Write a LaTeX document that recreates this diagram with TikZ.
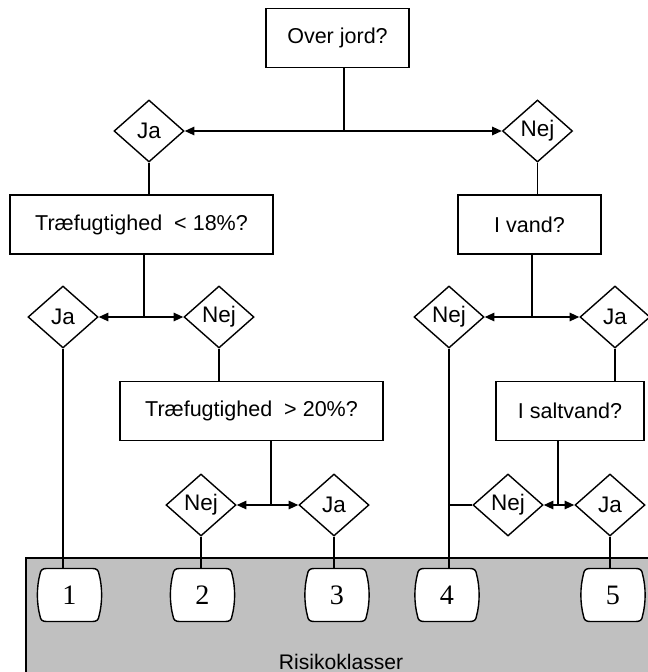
\documentclass[tikz,border=0pt]{standalone}
\usepackage{fontspec}
\setmainfont{Liberation Sans}
\newfontfamily\numfont{Liberation Serif}
\usepackage{tikz}
\usepackage{xcolor}
\usetikzlibrary{arrows.meta,positioning,shapes.geometric,calc}
\definecolor{ink}{HTML}{000000}
\definecolor{panelgray}{HTML}{C0C0C0}
\tikzset{
  askbox/.style={draw=ink,fill=white,line width=1pt,
                 minimum height=1.48cm,inner sep=2pt,align=center,
                 font=\fontsize{15.3}{18}\selectfont},
  answer/.style={draw=ink,fill=white,line width=1pt,diamond,
                 minimum width=1.75cm,minimum height=1.55cm,inner sep=0pt,
                 font=\fontsize{16}{18}\selectfont},
  classcard/.style={minimum width=1.625cm,minimum height=1.325cm,inner sep=0pt,
                    font=\numfont\fontsize{20}{22}\selectfont},
  cardline/.style={draw=ink,fill=white,line width=1pt},
  splitarr/.style={-{Triangle[length=2.4mm,width=2.1mm]},line width=1pt},
  plainline/.style={line width=1pt}
}
\begin{document}
\begin{tikzpicture}[x=0.025cm,y=-0.025cm]
  \useasboundingbox (0,0) rectangle (648,672);
  % risk class panel
  \fill[panelgray] (26,558) rectangle (652,676);
  \draw[plainline] (26,676) -- (26,558) -- (652,558);
  \node[font=\fontsize{15}{18}\selectfont] (rk) at (341,662) {Risikoklasser};
  % questions
  \node[askbox,minimum width=3.575cm] (over) at (337.5,38) {Over jord?};
  \node[askbox,minimum width=6.575cm] (t18) at (141.5,224.5) {Træfugtighed~~< 18\%?};
  \node[askbox,minimum width=3.575cm] (ivand) at (529.5,224.5) {I vand?};
  \node[askbox,minimum width=6.575cm] (t20) at (251.5,411) {Træfugtighed~~> 20\%?};
  \node[askbox,minimum width=3.7cm] (salt) at (570,411) {I saltvand?};
  % answers
  \node[answer] (ja1) at (149,131) {Ja};
  \node[answer] (nej1) at (537.5,131) {Nej};
  \node[answer] (ja2) at (63,317) {Ja};
  \node[answer] (nej2) at (219,317) {Nej};
  \node[answer] (nej3) at (449,317) {Nej};
  \node[answer] (ja3) at (615,317) {Ja};
  \node[answer] (nej4) at (201,505) {Nej};
  \node[answer] (ja4) at (334,505) {Ja};
  \node[answer] (nej5) at (508,505) {Nej};
  \node[answer] (ja5) at (610,505) {Ja};
  % classes
  \foreach \n/\x in {1/69.5,2/202.5,3/337,4/447,5/613} {
    \draw[cardline,shift={(\x,595)}] (-23,-26.5) -- (23,-26.5)
      .. controls (27,-26.5) and (29,-25) .. (29.5,-21)
      .. controls (33,-8) and (33,8) .. (29.5,21)
      .. controls (29,25) and (27,26.5) .. (23,26.5) -- (-23,26.5)
      .. controls (-27,26.5) and (-29,25) .. (-29.5,21)
      .. controls (-33,8) and (-33,-8) .. (-29.5,-21)
      .. controls (-29,-25) and (-27,-26.5) .. (-23,-26.5) -- cycle;
    \node[classcard] (k\n) at (\x,595) {\n};
  }
  % splits
  \coordinate (s1) at (344,131);
  \coordinate (s2) at (144,317);
  \coordinate (s3) at (532,317);
  \coordinate (s4) at (271,505);
  \coordinate (s5) at (558,505);
  \draw[plainline] (s1 |- over.south) -- (s1);
  \draw[splitarr] (s1) -- (ja1.east);
  \draw[splitarr] (s1) -- (nej1.west);
  \draw[plainline] (ja1.south) -- (ja1.south |- t18.north);
  \draw[plainline] (nej1.south) -- (nej1.south |- ivand.north);
  \draw[plainline] (s2 |- t18.south) -- (s2);
  \draw[splitarr] (s2) -- (ja2.east);
  \draw[splitarr] (s2) -- (nej2.west);
  \draw[plainline] (s3 |- ivand.south) -- (s3);
  \draw[splitarr] (s3) -- (nej3.east);
  \draw[splitarr] (s3) -- (ja3.west);
  \draw[plainline] (nej2.south) -- (nej2.south |- t20.north);
  \draw[plainline] (ja3.south) -- (ja3.south |- salt.north);
  \draw[plainline] (s4 |- t20.south) -- (s4);
  \draw[splitarr] (s4) -- (nej4.east);
  \draw[splitarr] (s4) -- (ja4.west);
  \draw[plainline] (s5 |- salt.south) -- (s5);
  \draw[splitarr] (s5) -- (nej5.east);
  \draw[splitarr] (s5) -- (ja5.west);
  \draw[plainline] (nej5.west) -- (nej5.west -| nej3.south);
  % to the classes
  \draw[plainline] (ja2.south) -- (ja2.south |- k1.north);
  \draw[plainline] (nej4.south) -- (nej4.south |- k2.north);
  \draw[plainline] (ja4.south) -- (ja4.south |- k3.north);
  \draw[plainline] (nej3.south) -- (nej3.south |- k4.north);
  \draw[plainline] (ja5.south) -- (ja5.south |- k5.north);
\end{tikzpicture}
\end{document}
